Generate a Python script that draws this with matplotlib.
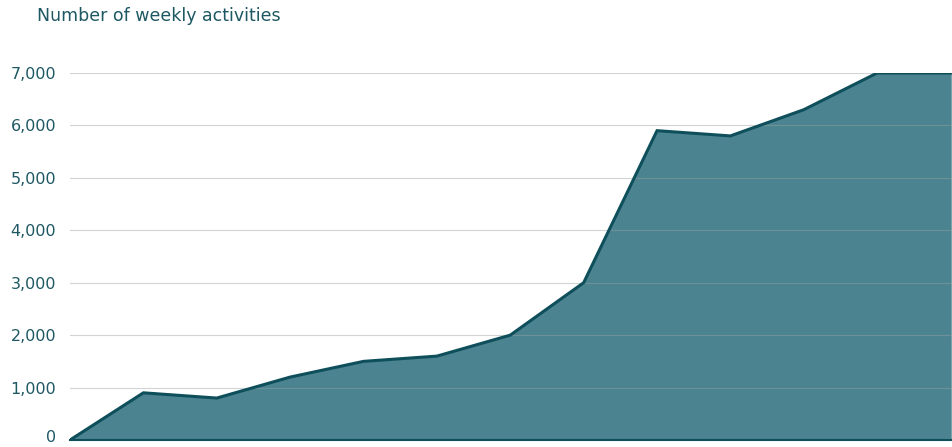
import numpy as np
import matplotlib.pyplot as plt
import matplotlib.transforms as mtransforms

plt.rcParams['font.family'] = ['DejaVu Sans']

# weekly activities, 13 weeks
weeks = np.arange(13)
activities = [0, 900, 800, 1200, 1500, 1600, 2000, 3000, 5900, 5800, 6300, 7000, 7000]
yticks = [0, 1000, 2000, 3000, 4000, 5000, 6000, 7000]

textColor = "#1d5863"
lineColor = "#0e4f5b"
fillColor = "#4b8490"

fig = plt.figure(figsize=(9.53, 4.47), dpi=100)
ax = fig.add_axes([70/953, 7/447, 882/953, 367/447])

ax.fill_between(weeks, activities, 0, color=fillColor, zorder=1)
ax.plot(weeks, activities, color=lineColor, linewidth=2.2, zorder=3, solid_joinstyle="miter")

for t in yticks[1:]:
    ax.axhline(t, color="#9aa0a3", linewidth=0.8, alpha=0.45, zorder=2)

ax.set_xlim(0, 12.02)
ax.set_ylim(0, 7000)
ax.set_yticks(yticks)
ax.set_yticklabels(["{:,}".format(t) for t in yticks], color=textColor, fontsize=11.5)
ax.tick_params(axis="y", length=0, pad=10)
ax.set_xticks([])

# the "0" label sits right at the bottom edge, lift it a few pixels
zeroLabel = ax.get_yticklabels()[0]
zeroLabel.set_transform(zeroLabel.get_transform() +
                        mtransforms.ScaledTranslation(0, 4/100, fig.dpi_scale_trans))

for s in ["top", "right", "left"]:
    ax.spines[s].set_visible(False)
ax.spines["bottom"].set_color(lineColor)
ax.spines["bottom"].set_linewidth(1.5)
ax.spines["bottom"].set_zorder(4)

fig.text(37/953, 1 - 16/447, "Number of weekly activities", color=textColor,
         fontsize=12.5, va="center", ha="left")

fig.savefig("out.png", dpi=100)
